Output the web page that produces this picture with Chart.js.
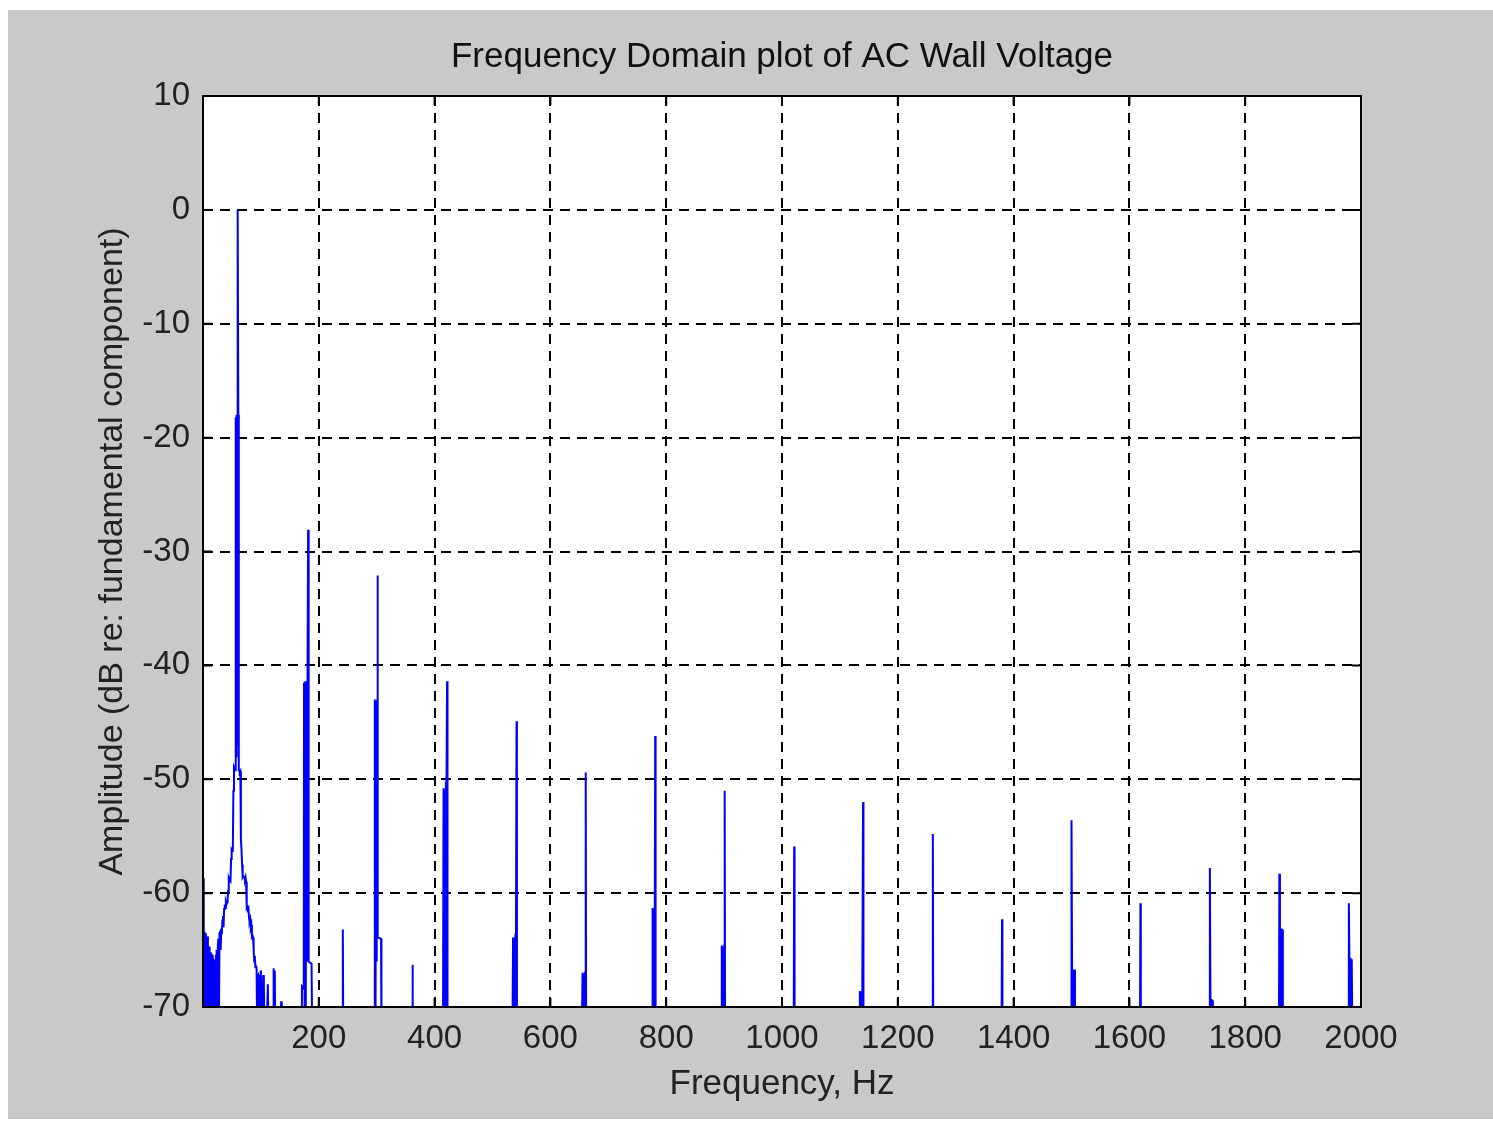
<!DOCTYPE html>
<html>
<head>
<meta charset="utf-8">
<title>Frequency Domain plot of AC Wall Voltage</title>
<script src="https://cdn.jsdelivr.net/npm/chart.js@4.4.1/dist/chart.umd.min.js"></script>
<style>
  html, body { margin: 0; padding: 0; background: #fff; }
  #panel { position: absolute; left: 8px; top: 10px; width: 1485px; height: 1109px; background: #c9c9c9; }
  #plot { position: absolute; left: 0; top: 0; }
</style>
</head>
<body>
<div id="panel"></div>
<canvas id="plot" width="1493" height="1125"></canvas>
<script>
// Low band: noise floor, 60 Hz fundamental and its skirt
const lowBandHz = [
  0, 1, 1.5, 2.5, 3.5, 4.5, 5.5, 6.5, 7.5, 8.5,
  9.5, 10.5, 11.5, 12.5, 13.5, 14.5, 15.5, 16.5, 17.5, 18.5,
  19.5, 20.5, 21.5, 22.5, 23.5, 24.5, 25.5, 26.5, 27.5, 28.5,
  29.5, 30.5, 31.5, 32.5, 33.5, 34.5, 35.5, 36.5, 37.5, 38.5,
  39.5, 40.5, 41.5, 42.5, 43.5, 44.5, 45.5, 46.5, 47.5, 48.5,
  49.5, 50.5, 51.5, 52.5, 53.5, 54.5, 55.5, 56.5, 57.2, 58,
  58.8, 59.5, 60.3, 61, 61.8, 62.5, 63.5, 64.5, 65.5, 66.5,
  67.5, 68.5,
  69.5, 70.5, 71.5, 72.5, 73.5, 74.5, 75.5, 76.5, 77.5, 78.5,
  79.5, 80.5, 81.5, 82.5, 83.5, 84.5, 85.5, 86.5, 87.5, 88.5,
  89.5, 90.5, 91.5, 92.5, 93.5, 94.5, 95.5, 96.5, 97.5, 98.5,
  100, 101, 104, 105, 106, 110, 112, 113, 121, 122,
  122.8, 124, 124.8, 134, 135, 136
];
const lowBandDb = [
  -58.7, -63.2, -72, -63.4, -70.5, -63.5, -64, -72, -63.8, -64.6,
  -72, -64.7, -65, -70, -65.2, -65.6, -72, -65.4, -65.9, -72,
  -66, -65.8, -72, -65.5, -65, -72, -64.8, -64, -72, -63.5,
  -63.4, -65, -63.3, -63.6, -62.4, -62, -63, -61.4, -61, -61.3,
  -60.8, -61, -60.8, -60.5, -59.8, -58.8, -59, -58.8, -58.9, -57,
  -56.2, -56.3, -56.2, -51, -48.9, -49, -49.2, -18.2, -48, -18,
  -47, -18, 0, -18, -49.2, -49.2, -49.4, -49.3, -55.3, -56.2,
  -57.5, -58.6,
  -58.5, -58.6, -58.7, -58.8, -58.6, -59, -61.3, -61.2, -61.4, -61.3,
  -62.2, -62.5, -62.3, -63, -62.8, -63.8, -63.7, -63.9, -65, -66,
  -65.5, -66.5, -66.4, -66.5, -72, -67.3, -67.2, -72, -67.3, -72,
  -66.8, -72, -67.3, -67.2, -72, -72, -68, -72, -72, -66.6,
  -72, -66.8, -72, -72, -69.5, -72
];

// Harmonic spikes (values below -70 fall under the axis)
const harmonicHz = [
  168, 170.5, 171, 174, 174.5, 175.5, 176.5, 177.5, 178.5, 179.5, 180.5, 181.5, 182.5, 187.5, 188.5,
  240.8, 241.5, 242.2,
  295.8, 296.5, 297, 298, 299, 300, 300.8, 301.4, 302, 307.5, 308.2,
  361.1, 361.8, 362.5,
  414.5, 415.5, 416.5, 417.5, 418.5, 419.5, 420.5, 421.5, 422.3,
  534.5, 535.5, 536.5, 537.5, 538.5, 539.5, 540.5, 541.5, 542.2,
  654.5, 655.5, 656.5, 657.5, 658.5, 659.5, 660.3, 661, 661.7,
  775.5, 776.5, 777.5, 778.5, 779.5, 780.3, 781, 781.7,
  895, 896, 897, 898, 899, 900.2, 901, 901.7,
  1020.3, 1021, 1021.7,
  1133.5, 1134.5, 1135.5, 1136.5, 1137.5, 1138.7, 1140, 1140.7,
  1259.8, 1260.5, 1261.2,
  1379.3, 1380, 1380.7,
  1499.3, 1500, 1501, 1502, 1503, 1504, 1505, 1506,
  1618.3, 1619, 1619.7,
  1738.3, 1739, 1740, 1741, 1742, 1743, 1744, 1745,
  1858.3, 1859, 1860, 1861, 1862, 1863, 1864, 1865,
  1978.3, 1979, 1980, 1981, 1982, 1983, 1984, 1985
];
const harmonicDb = [
  -72, -72, -68.2, -68.4, -41.5, -72, -41.4, -72, -41.5, -66, -41.4, -28.1, -66, -66.2, -72,
  -72, -63.2, -72,
  -72, -69.5, -43, -72, -43.1, -66, -43, -32.1, -63.9, -64, -72,
  -72, -66.3, -72,
  -72, -50.8, -72, -50.9, -72, -50.8, -51, -41.4, -72,
  -72, -63.9, -72, -64, -72, -63.9, -64, -44.9, -72,
  -72, -67, -72, -67.1, -72, -67, -67, -49.4, -72,
  -72, -61.3, -72, -61.4, -72, -61.3, -46.2, -72,
  -72, -64.6, -72, -64.7, -72, -64.6, -51, -72,
  -72, -55.9, -72,
  -72, -68.6, -72, -68.7, -72, -68.6, -52, -72,
  -72, -54.8, -72,
  -72, -62.3, -72,
  -72, -53.6, -66.7, -72, -66.8, -72, -66.7, -72,
  -72, -60.9, -72,
  -72, -57.8, -69.4, -72, -69.3, -72, -69.4, -72,
  -72, -58.3, -63.2, -72, -63.1, -72, -63.2, -72,
  -72, -60.9, -65.8, -72, -65.7, -72, -65.8, -72
];

const xTicks = [200, 400, 600, 800, 1000, 1200, 1400, 1600, 1800, 2000];
const yTicks = [10, 0, -10, -20, -30, -40, -50, -60, -70];

const fontFamily = "'Liberation Sans', Arial, sans-serif";

const freqHz = lowBandHz.concat(harmonicHz);
const ampDb = lowBandDb.concat(harmonicDb);
const spectrum = freqHz.map((f, i) => ({ x: f, y: ampDb[i] }));

// white plot area, full box and inward ticks like matlab
const plotBox = {
  id: 'plotBox',
  beforeDraw(chart) {
    const { ctx, chartArea: a } = chart;
    ctx.save();
    ctx.fillStyle = '#fff';
    ctx.fillRect(a.left, a.top, a.right - a.left, a.bottom - a.top);
    ctx.restore();
  },
  afterDraw(chart) {
    const { ctx, chartArea: a, scales } = chart;
    ctx.save();
    ctx.strokeStyle = '#000';
    ctx.lineWidth = 2;
    ctx.strokeRect(a.left, a.top, a.right - a.left, a.bottom - a.top);
    ctx.beginPath();
    xTicks.forEach(v => {
      const px = scales.x.getPixelForValue(v);
      ctx.moveTo(px, a.bottom); ctx.lineTo(px, a.bottom - 9);
      ctx.moveTo(px, a.top); ctx.lineTo(px, a.top + 9);
    });
    yTicks.forEach(v => {
      const py = scales.y.getPixelForValue(v);
      ctx.moveTo(a.left, py); ctx.lineTo(a.left + 9, py);
      ctx.moveTo(a.right, py); ctx.lineTo(a.right - 9, py);
    });
    ctx.stroke();
    ctx.restore();
  }
};

const ctx = document.getElementById('plot').getContext('2d');
new Chart(ctx, {
  type: 'line',
  data: {
    datasets: [{
      data: spectrum,
      borderColor: '#0000ff',
      borderWidth: 2,
      pointRadius: 0,
      tension: 0,
      clip: 0
    }]
  },
  options: {
    responsive: false,
    animation: false,
    layout: { padding: { top: 0, right: 132, bottom: 18, left: 0 } },
    plugins: {
      legend: { display: false },
      tooltip: { enabled: false },
      title: {
        display: true,
        fullSize: false,
        text: 'Frequency Domain plot of AC Wall Voltage',
        color: '#111',
        font: { family: fontFamily, size: 35, weight: 'normal' },
        padding: { top: 36, bottom: 18 }
      }
    },
    scales: {
      x: {
        type: 'linear',
        min: 0,
        max: 2000,
        afterFit: s => { s.height = 100; },
        ticks: {
          stepSize: 200,
          autoSkip: false,
          maxRotation: 0,
          padding: 12,
          color: '#222',
          font: { family: fontFamily, size: 33 },
          callback: v => (v === 0 ? '' : v)
        },
        grid: { color: '#000', lineWidth: 2, drawTicks: false },
        border: { display: false, dash: [10, 7] },
        title: {
          display: true,
          text: 'Frequency, Hz',
          color: '#222',
          font: { family: fontFamily, size: 35 },
          padding: { top: 0, bottom: 2 }
        }
      },
      y: {
        min: -70,
        max: 10,
        afterFit: s => { s.width = 203; },
        ticks: {
          stepSize: 10,
          padding: 13,
          color: '#222',
          font: { family: fontFamily, size: 33 }
        },
        grid: { color: '#000', lineWidth: 2, drawTicks: false },
        border: { display: false, dash: [10, 7] },
        title: {
          display: true,
          text: 'Amplitude (dB re: fundamental component)',
          color: '#222',
          font: { family: fontFamily, size: 34 },
          padding: { top: 92, bottom: 0 }
        }
      }
    }
  },
  plugins: [plotBox]
});
</script>
</body>
</html>
